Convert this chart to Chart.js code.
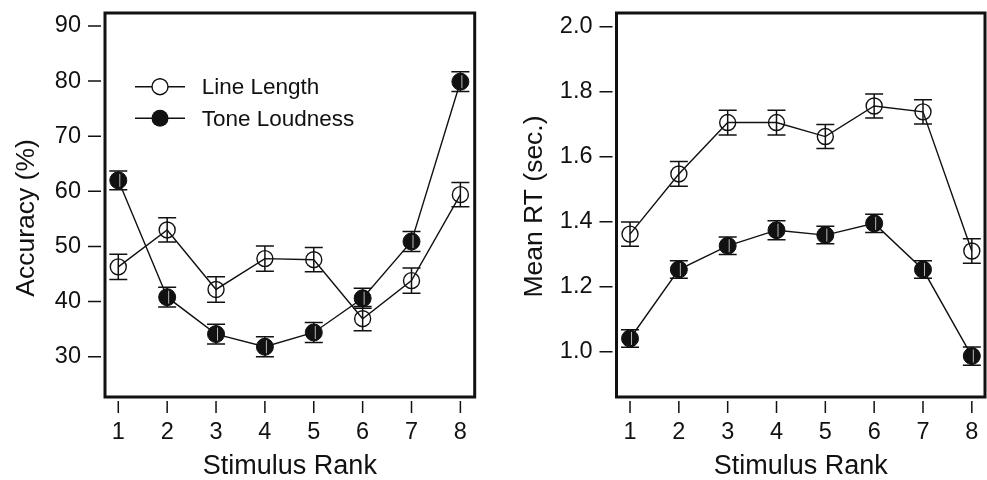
<!DOCTYPE html>
<html><head><meta charset="utf-8">
<script src="https://cdn.jsdelivr.net/npm/chart.js@4/dist/chart.umd.min.js"></script>
<style>
html,body{margin:0;padding:0;background:#fff;}
#wrap{position:relative;width:987px;height:480px;background:#fff;}
#c1{position:absolute;left:0;top:0;}
#c2{position:absolute;left:490px;top:0;}
</style></head><body>
<div id="wrap"><canvas id="c1" width="490" height="480"></canvas><canvas id="c2" width="497" height="480"></canvas></div>
<script>
// ---- data ----
const ranks = [1, 2, 3, 4, 5, 6, 7, 8];
const rankTickLabels = ['1', '2', '3', '4', '5', '6', '7', '8'];
const seriesNames = ['Line Length', 'Tone Loudness'];
const xTitle = 'Stimulus Rank';

const accTitle = 'Accuracy (%)';
const accTicks = [30, 40, 50, 60, 70, 80, 90];
const accTickLabels = ['30', '40', '50', '60', '70', '80', '90'];
const accLine = [46.3, 53.0, 42.2, 47.8, 47.6, 36.9, 43.8, 59.4];
const accLineErr = [2.3, 2.2, 2.3, 2.3, 2.2, 2.2, 2.3, 2.2];
const accTone = [62.0, 40.8, 34.1, 31.8, 34.4, 40.6, 50.9, 79.9];
const accToneErr = [1.7, 1.8, 1.8, 1.8, 1.8, 1.8, 1.8, 1.8];

const rtTitle = 'Mean RT (sec.)';
const rtTicks = [1.0, 1.2, 1.4, 1.6, 1.8, 2.0];
const rtTickLabels = ['1.0', '1.2', '1.4', '1.6', '1.8', '2.0'];
const rtLine = [1.362, 1.547, 1.705, 1.705, 1.662, 1.756, 1.738, 1.310];
const rtLineErr = [0.037, 0.038, 0.038, 0.038, 0.037, 0.037, 0.037, 0.038];
const rtTone = [1.041, 1.253, 1.326, 1.374, 1.359, 1.395, 1.253, 0.987];
const rtToneErr = [0.027, 0.027, 0.027, 0.029, 0.027, 0.028, 0.027, 0.028];

// ---- drawing ----
const FONT = '"Liberation Sans", Arial, Helvetica, sans-serif';
const INK = '#111';
const AREA_TOP = 13;

function decoPlugin(o) {
  return {
    id: 'deco',
    afterDatasetsDraw(chart) {
      const ctx = chart.ctx, ys = chart.scales.y, xs = chart.scales.x, a = chart.chartArea;
      ctx.save();
      // error bars
      chart.data.datasets.forEach((ds, di) => {
        const meta = chart.getDatasetMeta(di);
        meta.data.forEach((pt, i) => {
          const v = ds.data[i].y, e = ds.err[i];
          const yt = ys.getPixelForValue(v + e), yb = ys.getPixelForValue(v - e);
          const x = pt.x;
          ctx.strokeStyle = INK; ctx.lineWidth = 1.5;
          ctx.beginPath();
          ctx.moveTo(x, yt); ctx.lineTo(x, yb);
          ctx.moveTo(x - 9, yt); ctx.lineTo(x + 9, yt);
          ctx.moveTo(x - 9, yb); ctx.lineTo(x + 9, yb);
          ctx.stroke();
          if (ds.filled) {
            ctx.strokeStyle = '#b8b8b8'; ctx.lineWidth = 1;
            ctx.beginPath();
            ctx.moveTo(x + 1.5, pt.y - 6.5); ctx.lineTo(x + 1.5, pt.y + 6.5);
            ctx.stroke();
          }
        });
      });
      // frame
      ctx.strokeStyle = INK; ctx.lineWidth = 3;
      ctx.strokeRect(a.left, a.top, a.right - a.left, a.bottom - a.top);
      // tick marks
      ctx.lineWidth = 1.5;
      ctx.beginPath();
      ys.ticks.forEach(t => {
        const y = ys.getPixelForValue(t.value);
        ctx.moveTo(a.left - 17, y); ctx.lineTo(a.left - 4, y);
      });
      xs.ticks.forEach(t => {
        const x = xs.getPixelForValue(t.value);
        ctx.moveTo(x, a.bottom + 4); ctx.lineTo(x, a.bottom + 16);
      });
      ctx.stroke();
      // y title (rotated)
      ctx.fillStyle = INK;
      ctx.font = '26.5px ' + FONT;
      ctx.translate(o.yTitleX, o.yTitleY);
      ctx.rotate(-Math.PI / 2);
      ctx.textAlign = 'center'; ctx.textBaseline = 'alphabetic';
      ctx.fillText(o.yTitle, 0, 0);
      ctx.setTransform(1, 0, 0, 1, 0, 0);
      // legend
      if (o.legend) {
        const L = o.legend;
        const items = [chart.data.datasets[1], chart.data.datasets[0]];
        items.forEach((ds, k) => {
          const y = L.y[k];
          ctx.strokeStyle = INK; ctx.lineWidth = 1.4;
          ctx.beginPath(); ctx.moveTo(L.x0, y); ctx.lineTo(L.x1, y); ctx.stroke();
          const cx = (L.x0 + L.x1) / 2;
          ctx.beginPath(); ctx.arc(cx, y, ds.pointRadius, 0, Math.PI * 2);
          if (ds.filled) { ctx.fillStyle = INK; ctx.fill(); }
          else { ctx.fillStyle = '#fff'; ctx.fill(); ctx.lineWidth = ds.pointBorderWidth; ctx.stroke(); }
          ctx.fillStyle = INK;
          ctx.font = '22.5px ' + FONT;
          ctx.textAlign = 'left'; ctx.textBaseline = 'alphabetic';
          ctx.fillText(ds.label, L.tx, y + 7.5);
        });
      }
      ctx.restore();
    }
  };
}

function panel(id, o) {
  const mk = (vals) => ranks.map((r, i) => ({ x: r, y: vals[i] }));
  return new Chart(document.getElementById(id), {
    type: 'line',
    data: {
      datasets: [
        { label: seriesNames[1], data: mk(o.tone), err: o.toneErr, filled: true,
          borderColor: INK, borderWidth: 1.4, pointRadius: 8.5, pointBorderWidth: 1,
          pointBackgroundColor: INK, pointBorderColor: INK, order: 0, tension: 0 },
        { label: seriesNames[0], data: mk(o.line), err: o.lineErr, filled: false,
          borderColor: INK, borderWidth: 1.4, pointRadius: 8, pointBorderWidth: 1.4,
          pointBackgroundColor: 'rgba(0,0,0,0)', pointBorderColor: INK, order: 1, tension: 0 }
      ]
    },
    options: {
      responsive: false, animation: false, devicePixelRatio: 1,
      layout: { autoPadding: false, padding: { top: AREA_TOP, right: o.padRight, left: 0, bottom: 0 } },
      plugins: { legend: { display: false }, tooltip: { enabled: false } },
      scales: {
        x: {
          type: 'linear', min: o.xmin, max: o.xmax,
          afterBuildTicks: s => { s.ticks = ranks.map(v => ({ value: v })); },
          afterFit: s => { s.height = 83; s.paddingLeft = 0; s.paddingRight = 0; },
          grid: { display: false, drawTicks: false }, border: { display: false },
          ticks: { padding: 21, color: INK, font: { family: FONT, size: 23.5 }, maxRotation: 0,
                   callback: (v, i) => rankTickLabels[i] },
          title: { display: true, text: xTitle, color: INK, padding: 0,
                   font: { family: FONT, size: 27, lineHeight: 1 } }
        },
        y: {
          type: 'linear', min: o.ymin, max: o.ymax,
          afterBuildTicks: s => { s.ticks = o.ticks.map(v => ({ value: v })); },
          afterFit: s => { s.width = o.yWidth; s.paddingTop = 0; s.paddingBottom = 0; },
          grid: { display: false, drawTicks: false }, border: { display: false },
          ticks: { padding: 24, color: INK, font: { family: FONT, size: 23.5, lineHeight: 1 },
                   callback: (v, i) => o.tickLabels[i] }
        }
      }
    },
    plugins: [decoPlugin(o)]
  });
}

panel('c1', {
  line: accLine, lineErr: accLineErr, tone: accTone, toneErr: accToneErr,
  ticks: accTicks, tickLabels: accTickLabels, ymin: 22.69, ymax: 92.36,
  xmin: 0.728, xmax: 8.293, yWidth: 105, padRight: 15.3,
  yTitle: accTitle, yTitleX: 33.5, yTitleY: 218,
  legend: { x0: 135, x1: 185, tx: 201.7, y: [86.7, 118.3] }
});
panel('c2', {
  line: rtLine, lineErr: rtLineErr, tone: rtTone, toneErr: rtToneErr,
  ticks: rtTicks, tickLabels: rtTickLabels, ymin: 0.861, ymax: 2.042,
  xmin: 0.723, xmax: 8.27, yWidth: 126.5, padRight: 2,
  yTitle: rtTitle, yTitleX: 51.7, yTitleY: 206.5
});
</script>
</body></html>
